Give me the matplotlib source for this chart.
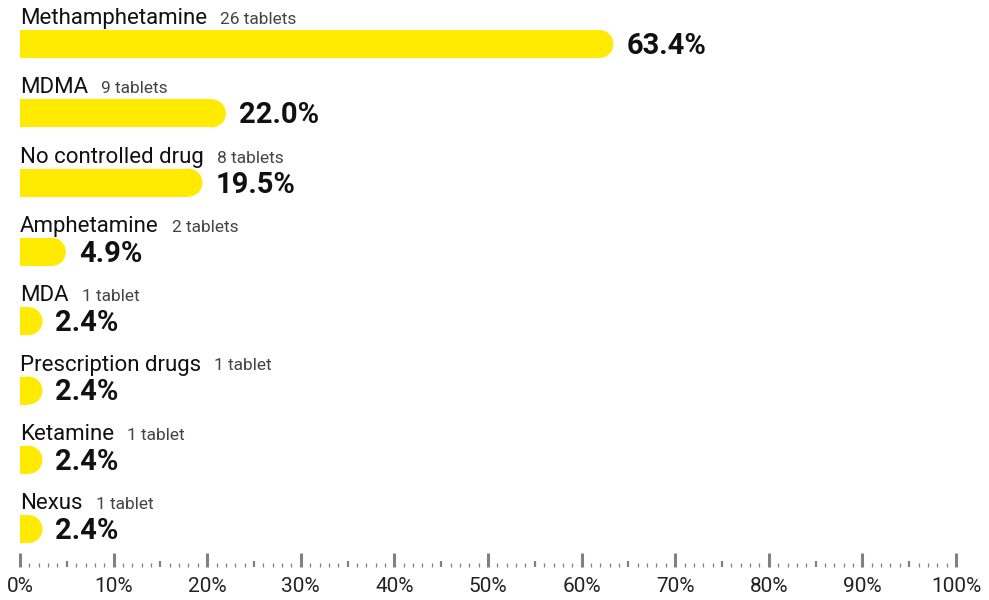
"""Horizontal bar chart of tablet test results with rounded bar ends and a ruler axis."""
import matplotlib
matplotlib.use("Agg")
import matplotlib.pyplot as plt
from matplotlib.patches import Ellipse, Rectangle

plt.rcParams["font.family"] = ["Roboto", "DejaVu Sans"]

substances = ["Methamphetamine", "MDMA", "No controlled drug", "Amphetamine",
              "MDA", "Prescription drugs", "Ketamine", "Nexus"]
counts = ["26 tablets", "9 tablets", "8 tablets", "2 tablets",
          "1 tablet", "1 tablet", "1 tablet", "1 tablet"]
shares = [63.4, 22.0, 19.5, 4.9, 2.4, 2.4, 2.4, 2.4]
tick_labels = [f"{v}%" for v in range(0, 101, 10)]

YELLOW = "#FFEA00"
W, H = 989, 600
PX_PER_PCT = 9.36   # 0% at x=20px, 100% at x=956px
ROW0, ROW_STEP, BAR_H = 44, 69.3, 28

fig = plt.figure(figsize=(W / 100, H / 100), dpi=100)
ax = fig.add_axes([0, 0, 1, 1])
ax.set_xlim(-20 / PX_PER_PCT, (W - 20) / PX_PER_PCT)
ax.set_ylim(H, 0)
ax.axis("off")

r_pct = (BAR_H / 2) / PX_PER_PCT
centers = [ROW0 + ROW_STEP * i for i in range(len(shares))]

# flat part of each bar, then a half-ellipse (a circle on screen) for the end
ax.barh(centers, [max(s - r_pct, 0) for s in shares], height=BAR_H, left=0,
        color=YELLOW, linewidth=0)
for s, y in zip(shares, centers):
    cap = Ellipse((s - r_pct, y), 2 * r_pct, BAR_H, color=YELLOW, linewidth=0)
    ax.add_patch(cap)
    # keep the cap from poking out left of the 0% line
    cap.set_clip_path(Rectangle((0, y - BAR_H), 200, 2 * BAR_H,
                                transform=ax.transData))
    ax.text(s + 13 / PX_PER_PCT, y + 2, f"{s:.1f}%", fontsize=21,
            fontweight="bold", color="#111111", va="center", ha="left")

# category names with the tablet count following on the same baseline
fig.canvas.draw()
renderer = fig.canvas.get_renderer()
inv = ax.transData.inverted()
for name, cnt, y in zip(substances, counts, centers):
    base = y - BAR_H / 2 - 6
    t = ax.text(0, base, name, fontsize=16, color="#111111",
                va="baseline", ha="left")
    x1 = t.get_window_extent(renderer).x1
    xd = inv.transform((x1 + 13, 0))[0]
    ax.text(xd, base, cnt, fontsize=12.5, color="#444444",
            va="baseline", ha="left")

# ruler: major ticks every 10%, medium at 5%, minor every 1%
for v in range(0, 101):
    if v % 10 == 0:
        top, lw = 553, 2.2
    elif v % 5 == 0:
        top, lw = 561, 1.6
    else:
        top, lw = 563, 0.9
    ax.plot([v, v], [top, 567], color="#808080", linewidth=lw,
            solid_capstyle="butt")
for v, lab in zip(range(0, 101, 10), tick_labels):
    ax.text(v, 586, lab, fontsize=15, color="#222222",
            ha="center", va="center")

fig.savefig("out.png", dpi=100)
